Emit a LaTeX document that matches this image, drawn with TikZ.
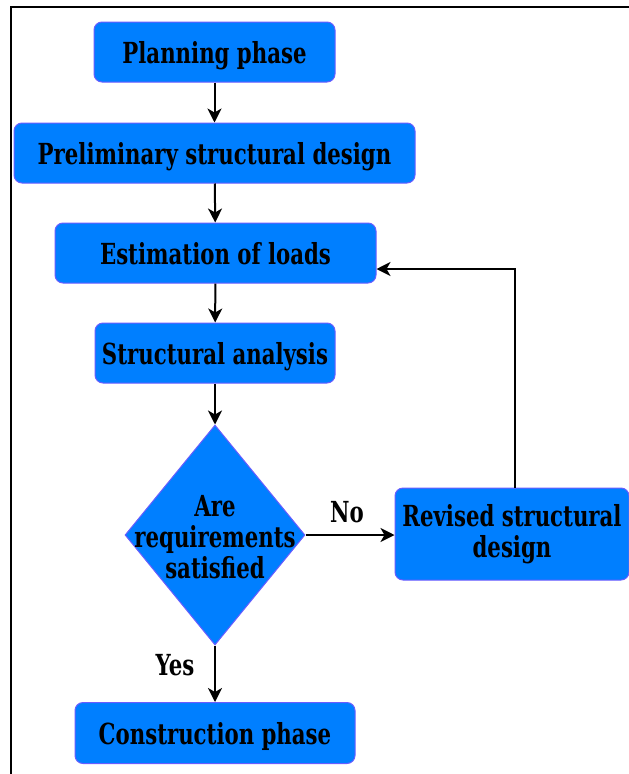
\documentclass[tikz,border=0pt]{standalone}
\usepackage{fontspec}
\setmainfont{DejaVu Serif Condensed}
\newcommand{\sq}[1]{\scalebox{0.815}[1]{#1}}
\usetikzlibrary{shapes.geometric,arrows.meta}
\definecolor{boxblue}{HTML}{007FFF}
\definecolor{boxedge}{HTML}{6A5CFF}
\begin{document}
\begin{tikzpicture}[x=1pt,y=-1pt,
 box/.style={draw=boxedge, fill=boxblue, line width=1pt, rounded corners=8pt, inner sep=0pt, font=\fontsize{29}{31}\selectfont\bfseries, align=center},
 one/.style={text height=22pt, text depth=0pt},
 dia/.style={diamond, draw=boxedge, fill=boxblue, line width=1pt, inner sep=0pt, minimum width=180pt, minimum height=220pt},
 conn/.style={draw=black, line width=2pt, -{Stealth[length=14pt,width=14pt,inset=4pt]}},
 lbl/.style={font=\fontsize{29}{31}\selectfont\bfseries, inner sep=0pt, align=center}]
\useasboundingbox (0,0) rectangle (629,774);
\draw[line width=2pt] (11,774) -- (11,7) -- (629,7);
\node[box, one, minimum width=241pt, minimum height=60pt] (plan) at (214.5,52) {\sq{Planning phase}};
\node[box, one, minimum width=401pt, minimum height=60pt] (prelim) at (214.5,153) {\sq{Preliminary structural design}};
\node[box, one, minimum width=321pt, minimum height=60pt] (est) at (215.5,253) {\sq{Estimation of loads}};
\node[box, one, minimum width=240pt, minimum height=60pt] (ana) at (215,353) {\sq{Structural analysis}};
\node[dia] (dec) at (215,535) {};
\node[lbl] (dect) at (215,537) {\sq{Are}\\\sq{requirements}\\\sq{satisfied}};
\node[box, minimum width=234pt, minimum height=92pt] (rev) at (512,534) {\sq{Revised structural}\\\sq{design}};
\node[box, one, minimum width=280pt, minimum height=61pt] (cons) at (215,733) {\sq{Construction phase}};
\node[lbl] (no) at (347,512) {\sq{No}};
\node[lbl] (yes) at (175,665) {\sq{Yes}};
\draw[conn] (plan) -- (prelim);
\draw[conn] (prelim) -- (est);
\draw[conn] (est) -- (ana);
\draw[conn] (ana) -- (dec);
\draw[conn] (dec.east) -- (dec.east -| rev.west);
\draw[conn] (dec) -- (cons);
\draw[conn] ([xshift=3pt]rev.north) |- ([yshift=-16pt]est.east);
\end{tikzpicture}
\end{document}
